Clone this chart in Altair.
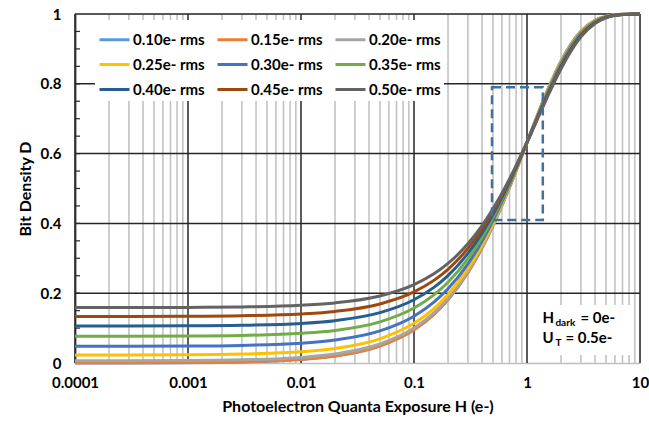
import altair as alt
import pandas as pd

# Photoelectron exposure H (e-) at which each curve is sampled
H = [0.0001, 0.001, 0.003, 0.01, 0.02, 0.05, 0.1, 0.15, 0.2, 0.3, 0.4, 0.5,
     0.7, 1, 1.5, 2, 3, 4, 5, 7, 10]

SERIES = ["0.10e- rms", "0.15e- rms", "0.20e- rms",
          "0.25e- rms", "0.30e- rms", "0.35e- rms",
          "0.40e- rms", "0.45e- rms", "0.50e- rms"]
COLORS = ["#5B9BD5", "#ED7D31", "#A5A5A5",
          "#FFC000", "#4472C4", "#70AD47",
          "#255E91", "#9E480E", "#636363"]

# Bit density D for each read-noise level
d_010 = [0.0001, 0.0010, 0.0030, 0.0100, 0.0198, 0.0488, 0.0952, 0.1393, 0.1813, 0.2592, 0.3297,
         0.3935, 0.5034, 0.6321, 0.7769, 0.8647, 0.9502, 0.9817, 0.9933, 0.9991, 1.0]
d_015 = [0.0005, 0.0014, 0.0034, 0.0104, 0.0202, 0.0492, 0.0955, 0.1396, 0.1816, 0.2594, 0.3299,
         0.3936, 0.5035, 0.6321, 0.7768, 0.8646, 0.9502, 0.9817, 0.9933, 0.9991, 1.0]
d_020 = [0.0063, 0.0072, 0.0092, 0.0160, 0.0258, 0.0544, 0.1002, 0.1438, 0.1853, 0.2624, 0.3322,
         0.3954, 0.5043, 0.6321, 0.7762, 0.8638, 0.9496, 0.9813, 0.9931, 0.9991, 1.0]
d_025 = [0.0229, 0.0237, 0.0256, 0.0323, 0.0417, 0.0693, 0.1137, 0.1559, 0.1962, 0.2710, 0.3388,
         0.4004, 0.5068, 0.6321, 0.7743, 0.8616, 0.9480, 0.9804, 0.9927, 0.9990, 1.0]
d_030 = [0.0479, 0.0487, 0.0505, 0.0568, 0.0657, 0.0920, 0.1341, 0.1743, 0.2126, 0.2840, 0.3489,
         0.4080, 0.5105, 0.6321, 0.7715, 0.8582, 0.9455, 0.9791, 0.9920, 0.9988, 1.0]
d_035 = [0.0767, 0.0774, 0.0791, 0.0850, 0.0933, 0.1180, 0.1575, 0.1953, 0.2314, 0.2989, 0.3605,
         0.4167, 0.5148, 0.6321, 0.7683, 0.8543, 0.9426, 0.9775, 0.9912, 0.9987, 1.0]
d_040 = [0.1057, 0.1064, 0.1080, 0.1135, 0.1213, 0.1442, 0.1812, 0.2166, 0.2505, 0.3140, 0.3722,
         0.4255, 0.5192, 0.6321, 0.7651, 0.8504, 0.9397, 0.9759, 0.9904, 0.9985, 1.0]
d_045 = [0.1333, 0.1340, 0.1355, 0.1406, 0.1478, 0.1692, 0.2037, 0.2368, 0.2686, 0.3283, 0.3833,
         0.4339, 0.5233, 0.6321, 0.7620, 0.8466, 0.9369, 0.9744, 0.9897, 0.9984, 1.0]
d_050 = [0.1587, 0.1593, 0.1607, 0.1655, 0.1722, 0.1922, 0.2244, 0.2554, 0.2852, 0.3415, 0.3935,
         0.4416, 0.5271, 0.6321, 0.7592, 0.8432, 0.9344, 0.9730, 0.9890, 0.9982, 1.0]
D_ALL = [d_010, d_015, d_020, d_025, d_030, d_035, d_040, d_045, d_050]

# Axis ticks and grid positions
X_DECADES = [0.0001, 0.001, 0.01, 0.1, 1, 10]
X_MINOR = [m * d for d in X_DECADES[:-1] for m in range(2, 10)]
Y_LABELS = [0, 0.2, 0.4, 0.6, 0.8, 1.0]
Y_MAJOR = [0.2, 0.4, 0.6, 0.8, 1.0]
Y_MINOR = [round(0.05 * i, 2) for i in range(1, 20)]

# Dashed highlight window and the note box
WINDOW = {"H": 0.49, "H2": 1.38, "D": 0.41, "D2": 0.79}
NOTE_BOX = {"H": 1.18, "H2": 8.5, "D": 0.023, "D2": 0.166}
NOTE_X = 1.37
NOTE_Y1 = 0.1146
NOTE_Y2 = 0.0573

FONT = "Lato"
INK = "#000000"
MAJOR = "#262626"
MINOR = "#BFBFBF"

rows = []
for i, (name, vals) in enumerate(zip(SERIES, D_ALL)):
    for h, v in zip(H, vals):
        rows.append({"H": h, "D": v, "sigma": name, "order": i})
curves_df = pd.DataFrame(rows)

xs = alt.Scale(type="log", domain=[0.0001, 10], nice=False)
ys = alt.Scale(domain=[0, 1], nice=False, zero=False)

X_AXIS = alt.Axis(values=X_DECADES, format="~g", grid=False, ticks=False,
                  domainColor=MINOR, domainWidth=1.5,
                  labelFont=FONT, labelFontSize=15, labelFontWeight="bold",
                  labelColor=INK, labelPadding=12, labelFlush=False,
                  titleFont=FONT, titleFontSize=16, titleFontWeight="bold",
                  titleColor=INK, titlePadding=8)
Y_AXIS = alt.Axis(values=Y_LABELS, format="~g", grid=False, ticks=False,
                  domainColor="#595959", domainWidth=2,
                  labelFont=FONT, labelFontSize=15, labelFontWeight="bold",
                  labelColor=INK, labelPadding=14, labelFlush=False,
                  titleFont=FONT, titleFontSize=16, titleFontWeight="bold",
                  titleColor=INK, titlePadding=7)
X_TITLE = "Photoelectron Quanta Exposure H (e-)"
Y_TITLE = "Bit Density D"


def xenc(field="H"):
    return alt.X(f"{field}:Q", scale=xs, axis=X_AXIS, title=X_TITLE)


def yenc(field="D"):
    return alt.Y(f"{field}:Q", scale=ys, axis=Y_AXIS, title=Y_TITLE)


minor_x = alt.Chart(pd.DataFrame({"H": X_MINOR})).mark_rule(
    color=MINOR, strokeWidth=1.5).encode(x=xenc())
major_x = alt.Chart(pd.DataFrame({"H": X_DECADES})).mark_rule(
    color=MAJOR, strokeWidth=1.5).encode(x=xenc())
major_y = alt.Chart(pd.DataFrame({"D": Y_MAJOR})).mark_rule(
    color=MAJOR, strokeWidth=1.5).encode(y=yenc())
minor_y = alt.Chart(pd.DataFrame({"D": Y_MINOR})).mark_rule(
    color=MAJOR, strokeWidth=1.2).encode(
    y=yenc(), x=alt.value(0), x2=alt.value(5))

note_bg = alt.Chart(pd.DataFrame([NOTE_BOX])).mark_rect(fill="white").encode(
    x=xenc(), x2="H2:Q", y=yenc(), y2="D2:Q")


def note(text, y, dx, size, dy=0):
    return alt.Chart(pd.DataFrame({"H": [NOTE_X], "D": [y], "t": [text]})).mark_text(
        align="left", baseline="alphabetic", font=FONT, fontWeight="bold",
        fontSize=size, color=INK, dx=dx, dy=dy).encode(
        x=xenc(), y=yenc(), text="t:N")


notes = [
    note("H", NOTE_Y1, 0, 15),
    note("dark", NOTE_Y1, 13, 10, 3),
    note("= 0e-", NOTE_Y1, 38, 15),
    note("U", NOTE_Y2, 0, 15),
    note("T", NOTE_Y2, 13, 10, 3),
    note("= 0.5e-", NOTE_Y2, 23, 15),
]

curves = alt.Chart(curves_df).mark_line(strokeWidth=3, interpolate="monotone").encode(
    x=xenc(),
    y=yenc(),
    color=alt.Color("sigma:N", scale=alt.Scale(domain=SERIES, range=COLORS),
                    legend=alt.Legend(orient="none", legendX=20, legendY=6, columns=3,
                                      direction="horizontal",
                                      symbolType="stroke", symbolSize=900,
                                      symbolStrokeWidth=3, labelFont=FONT,
                                      labelFontSize=15, labelFontWeight="bold",
                                      labelColor=INK, labelOffset=2, labelLimit=0,
                                      fillColor="white", padding=3, columnPadding=6,
                                      rowPadding=-8, title=None)),
    order="order:Q",
    detail="sigma:N",
)

window = alt.Chart(pd.DataFrame([WINDOW])).mark_rect(
    fillOpacity=0, stroke="#41719C", strokeWidth=2.5, strokeDash=[9, 5]).encode(
    x=xenc(), x2="H2:Q", y=yenc(), y2="D2:Q")

chart = alt.layer(
    minor_x, major_x, major_y, minor_y, note_bg, *notes, curves, window
).properties(
    width=565, height=349,
    autosize=alt.AutoSizeParams(type="none"),
    padding={"left": 75, "top": 14, "right": 9, "bottom": 58},
).configure_view(strokeWidth=0).configure(background="white")

chart.save("out.html", embed_options={"renderer": "svg", "actions": False})
